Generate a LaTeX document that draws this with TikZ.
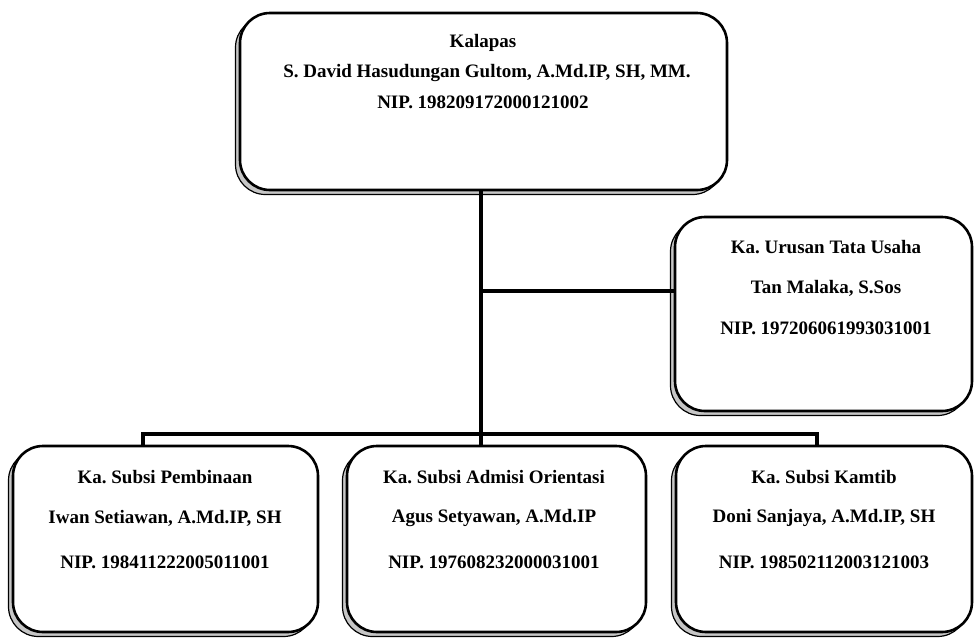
\documentclass[tikz,border=0pt]{standalone}
\usepackage{fontspec}
\setmainfont{Liberation Serif}
\usetikzlibrary{shadows}
\frenchspacing
\begin{document}
\begin{tikzpicture}[x=1pt,y=-1pt,
  orgbox/.style={draw=black, line width=2.6pt, rounded corners=30pt, fill=white,
    general shadow={shadow xshift=-4.5pt, shadow yshift=-4.5pt, draw=black, line width=1.2pt, fill=gray!45}},
  orgtext/.style={font=\fontsize{19}{21}\bfseries\selectfont, align=center, inner sep=0pt},
  link/.style={line width=4pt, draw=black}]
\useasboundingbox (0,0) rectangle (975,638);
\fill[white] (0,0) rectangle (975,638);
% boxes
\node[orgbox, minimum width=487pt, minimum height=177pt] (top) at (483.5,101.5) {};
\node[orgbox, minimum width=297pt, minimum height=194pt] (right) at (823.5,314) {};
\node[orgbox, minimum width=305pt, minimum height=186pt] (bl) at (165.5,539) {};
\node[orgbox, minimum width=299pt, minimum height=186pt] (bm) at (496.5,539) {};
\node[orgbox, minimum width=296pt, minimum height=186pt] (br) at (824,539) {};
% connectors
\coordinate (j1) at (481,291);
\coordinate (bL) at (143,434);
\coordinate (bR) at (817,434);
\draw[link] (top.south -| j1) -- (bm.north -| j1);
\draw[link] (j1) -- (right.west |- j1);
\draw[link] (bl.north -| bL) -- (bL) -- (bR) -- (br.north -| bR);
% texts
\node[orgtext] (t1) at (483,43) {Kalapas};
\node[orgtext] (t2) at (487,73) {S. David Hasudungan Gultom, A.Md.IP, SH, MM.};
\node[orgtext] (t3) at (483,102) {NIP. 198209172000121002};
\node[orgtext] (r1) at (826,247) {Ka. Urusan Tata Usaha};
\node[orgtext] (r2) at (826,288) {Tan Malaka, S.Sos};
\node[orgtext] (r3) at (826,328) {NIP. 197206061993031001};
\node[orgtext] (a1) at (165,477) {Ka. Subsi Pembinaan};
\node[orgtext] (a2) at (165,518) {Iwan Setiawan, A.Md.IP, SH};
\node[orgtext] (a3) at (165,562) {NIP. 198411222005011001};
\node[orgtext] (b1) at (494,477) {Ka. Subsi Admisi Orientasi};
\node[orgtext] (b2) at (494,518) {Agus Setyawan, A.Md.IP};
\node[orgtext] (b3) at (494,562) {NIP. 197608232000031001};
\node[orgtext] (c1) at (824,477) {Ka. Subsi Kamtib};
\node[orgtext] (c2) at (824,518) {Doni Sanjaya, A.Md.IP, SH};
\node[orgtext] (c3) at (824,562) {NIP. 198502112003121003};
\end{tikzpicture}
\end{document}
